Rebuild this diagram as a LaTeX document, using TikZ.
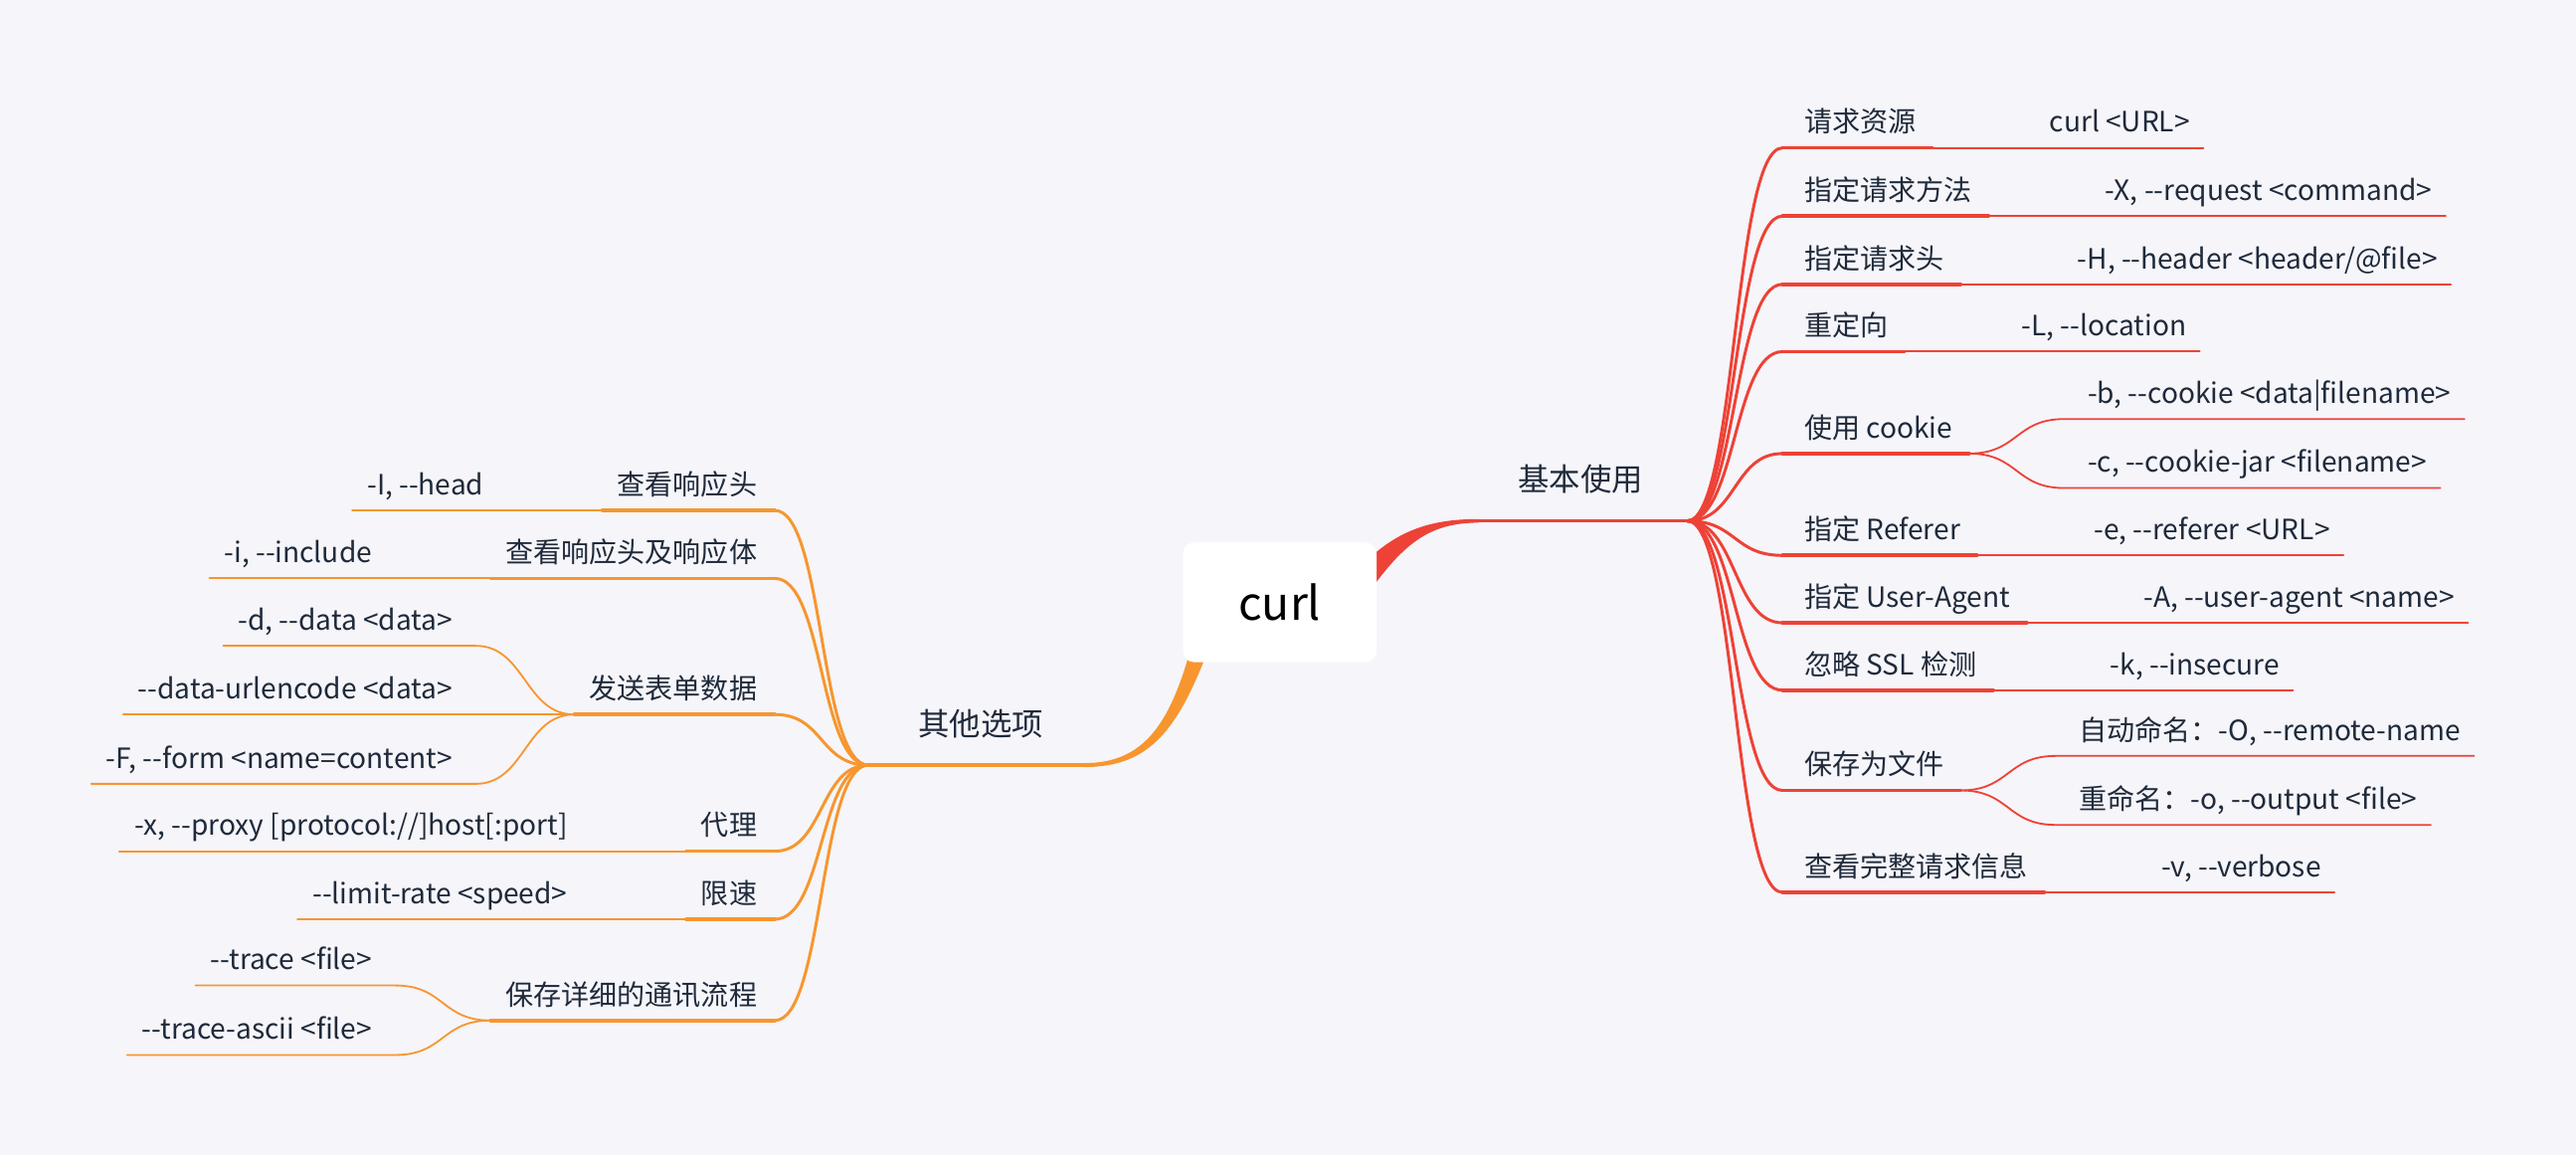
\documentclass[tikz,border=0pt]{standalone}
\usepackage{fontspec}
\setmainfont{Noto Sans CJK SC}
\usetikzlibrary{calc,positioning}
\definecolor{bg}{HTML}{F5F5FA}
\definecolor{ink}{HTML}{1F2A3A}
\definecolor{redline}{HTML}{EE4236}
\definecolor{orangeline}{HTML}{F7962F}
\tikzset{
  txt/.style={inner sep=0pt, text=ink, font=\fontsize{17}{20}\selectfont},
  topic/.style={inner sep=0pt, text=ink, font=\fontsize{19}{22}\selectfont},
  fanline/.style={line width=1.8pt},
  bar/.style={line width=2.2pt},
  thinline/.style={line width=1.2pt},
  twig/.style={line width=1.1pt},
}
\begin{document}
\begin{tikzpicture}[x=1pt, y=-1pt, line cap=round]
\fill[bg] (0,0) rectangle (1568,703);
\useasboundingbox (0,0) rectangle (1568,703);

% trunk lines
\coordinate (rjoin) at (900,317);
\coordinate (rfan) at (1027,317);
\coordinate (ljoin) at (660,465.6);
\coordinate (lfan) at (528.6,465.6);
\fill[redline] (827,346) .. controls (849,323) and (870,315.9) .. ([yshift=1.1pt]rjoin)
  -- ([yshift=-1.1pt]rjoin) .. controls (872,318.1) and (856,329) .. (835,358) -- cycle;
\fill[orangeline] (736,394) .. controls (717,444) and (700,466.8) .. ([yshift=-1.2pt]ljoin)
  -- ([yshift=1.2pt]ljoin) .. controls (696,464.4) and (712,441) .. (725,394) -- cycle;
\draw[bar, redline] (rjoin) -- (rfan);
\draw[bar, orangeline] (ljoin) -- (lfan);

\node[fill=white, rounded corners=7pt, minimum width=118pt, minimum height=73pt, inner sep=0pt,
  text=black, font=\fontsize{28}{32}\selectfont] (root) at (779,366.5) {curl};
\node[topic, anchor=base] (basic) at (962,299) {基本使用};
\node[topic, anchor=base] (other) at (597,447.5) {其他选项};

% right side
\foreach \n/\y/\lab/\val in {1/90/{请求资源}/{curl <URL>},
    2/131.5/{指定请求方法}/{-X, -{}-request <command>},
    3/173/{指定请求头}/{-H, -{}-header <header/@file>},
    4/214/{重定向}/{-L, -{}-location},
    6/338/{指定 Referer}/{-e, -{}-referer <URL>},
    7/379/{指定 User-Agent}/{-A, -{}-user-agent <name>},
    8/420/{忽略 SSL 检测}/{-k, -{}-insecure},
    10/543/{查看完整请求信息}/{-v, -{}-verbose}} {
  \node[txt, anchor=base west] (r\n) at (1098,\y-9.5) {\lab};
  \node[txt, anchor=base west] (rv\n) at ($(r\n.base east)+(81,0)$) {\val};
  \coordinate (rs\n) at (1085,\y);
  \coordinate (rm\n) at ($(r\n.east |- rs\n)+(10,0)$);
  \coordinate (re\n) at ($(rv\n.east |- rs\n)+(8,0)$);
  \draw[fanline, redline] (rfan) .. controls +(30,0) and +(-30,0) .. (rs\n);
  \draw[bar, redline] (rs\n) -- (rm\n);
  \draw[thinline, redline] (rm\n) -- (re\n);
}
\foreach \n/\y/\lab/\va/\vb in {5/276/{使用 cookie}/{-b, -{}-cookie <data|filename>}/{-c, -{}-cookie-jar <filename>},
    9/481/{保存为文件}/{自动命名：-O, -{}-remote-name}/{重命名：-o, -{}-output <file>}} {
  \node[txt, anchor=base west] (r\n) at (1098,\y-9.5) {\lab};
  \coordinate (rs\n) at (1085,\y);
  \coordinate (rm\n) at ($(r\n.east |- rs\n)+(10,0)$);
  \node[txt, anchor=base west] (ra\n) at ($(rm\n)+(72,-30.5)$) {\va};
  \node[txt, anchor=base west] (rb\n) at ($(rm\n)+(72,11.5)$) {\vb};
  \coordinate (rsa\n) at ($(rm\n)+(58,-21)$);
  \coordinate (rsb\n) at ($(rm\n)+(58,21)$);
  \draw[fanline, redline] (rfan) .. controls +(30,0) and +(-30,0) .. (rs\n);
  \draw[bar, redline] (rs\n) -- (rm\n);
  \draw[twig, redline] (rm\n) .. controls +(30,0) and +(-30,0) .. (rsa\n) -- ($(ra\n.east |- rsa\n)+(8,0)$);
  \draw[twig, redline] (rm\n) .. controls +(30,0) and +(-30,0) .. (rsb\n) -- ($(rb\n.east |- rsb\n)+(8,0)$);
}

% left side
\foreach \n/\y/\lab/\val in {1/310.6/{查看响应头}/{-I, -{}-head},
    2/352/{查看响应头及响应体}/{-i, -{}-include},
    4/518/{代理}/{-x, -{}-proxy [protocol://]host[:port]},
    5/559.4/{限速}/{-{}-limit-rate <speed>}} {
  \node[txt, anchor=base east] (l\n) at (461,\y-9.5) {\lab};
  \node[txt, anchor=base east] (lv\n) at ($(l\n.base west)+(-81,0)$) {\val};
  \coordinate (ls\n) at (471.6,\y);
  \coordinate (lm\n) at ($(l\n.west |- ls\n)+(-9,0)$);
  \coordinate (le\n) at ($(lv\n.west |- ls\n)+(-9,0)$);
  \draw[fanline, orangeline] (lfan) .. controls +(-30,0) and +(30,0) .. (ls\n);
  \draw[bar, orangeline] (ls\n) -- (lm\n);
  \draw[thinline, orangeline] (lm\n) -- (le\n);
}

% send form data
\node[txt, anchor=base east] (l3) at (461,425.3) {发送表单数据};
\coordinate (ls3) at (471.6,434.8);
\coordinate (lm3) at ($(l3.west |- ls3)+(-9,0)$);
\node[txt, anchor=base east] (la3) at ($(lm3)+(-74,-51.3)$) {-d, -{}-data <data>};
\node[txt, anchor=base east] (lb3) at ($(lm3)+(-74,-9.5)$) {-{}-data-urlencode <data>};
\node[txt, anchor=base east] (lc3) at ($(lm3)+(-74,32.7)$) {-F, -{}-form <name=content>};
\coordinate (lsa3) at ($(lm3)+(-60,-41.8)$);
\coordinate (lsc3) at ($(lm3)+(-60,42.2)$);
\draw[fanline, orangeline] (lfan) .. controls +(-30,0) and +(30,0) .. (ls3);
\draw[bar, orangeline] (ls3) -- (lm3);
\draw[twig, orangeline] (lm3) .. controls +(-30,0) and +(30,0) .. (lsa3) -- ($(la3.west |- lsa3)+(-9,0)$);
\draw[twig, orangeline] (lm3) -- ($(lb3.west |- lm3)+(-9,0)$);
\draw[twig, orangeline] (lm3) .. controls +(-30,0) and +(30,0) .. (lsc3) -- ($(lc3.west |- lsc3)+(-9,0)$);

% trace
\node[txt, anchor=base east] (l6) at (461,611.5) {保存详细的通讯流程};
\coordinate (ls6) at (471.6,621);
\coordinate (lm6) at ($(l6.west |- ls6)+(-9,0)$);
\node[txt, anchor=base east] (la6) at ($(lm6)+(-72,-30.8)$) {-{}-trace <file>};
\node[txt, anchor=base east] (lb6) at ($(lm6)+(-72,11.5)$) {-{}-trace-ascii <file>};
\coordinate (lsa6) at ($(lm6)+(-58,-21.3)$);
\coordinate (lsb6) at ($(lm6)+(-58,21)$);
\draw[fanline, orangeline] (lfan) .. controls +(-30,0) and +(30,0) .. (ls6);
\draw[bar, orangeline] (ls6) -- (lm6);
\draw[twig, orangeline] (lm6) .. controls +(-30,0) and +(30,0) .. (lsa6) -- ($(la6.west |- lsa6)+(-9,0)$);
\draw[twig, orangeline] (lm6) .. controls +(-30,0) and +(30,0) .. (lsb6) -- ($(lb6.west |- lsb6)+(-9,0)$);
\end{tikzpicture}
\end{document}
